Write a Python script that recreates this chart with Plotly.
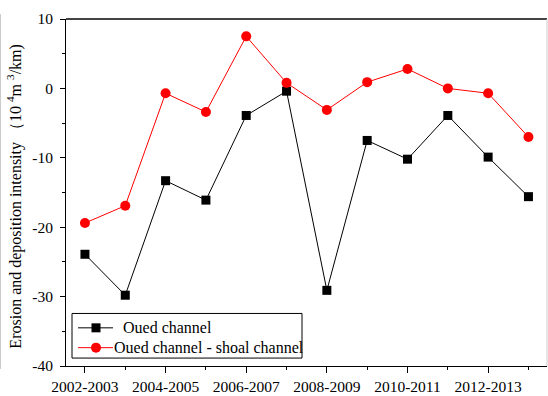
import plotly.graph_objects as go

# Hydrological years
years = ["2002-2003", "2003-2004", "2004-2005", "2005-2006", "2006-2007", "2007-2008",
         "2008-2009", "2009-2010", "2010-2011", "2011-2012", "2012-2013", "2013-2014"]

# Erosion / deposition intensity, 10^4 m^3/km
oued_channel = [-23.9, -29.8, -13.3, -16.1, -3.9, -0.4, -29.1, -7.5, -10.2, -3.9, -9.9, -15.6]
oued_minus_shoal = [-19.4, -16.9, -0.7, -3.4, 7.5, 0.8, -3.1, 0.9, 2.8, 0.0, -0.7, -7.0]

series_names = ["Oued channel", "Oued channel - shoal channel"]
series_colors = ["black", "#ff0000"]
series_symbols = ["square", "circle"]

y_tick_values = [-40, -30, -20, -10, 0, 10]
y_tick_labels = ["-40", "-30", "-20", "-10", "0", "10"]

x_pos = list(range(len(years)))
FONT = "Liberation Serif"

# plot-area geometry in pixels, used to place the hand-built legend box
W, H = 548, 396
ML, MR, MT, MB = 66, 1, 19, 27
PW, PH = W - ML - MR, H - MT - MB


def px_x(px):
    return (px - ML) / PW


def px_y(py):
    return (H - MB - py) / PH


fig = go.Figure()
for vals, name, col, sym, msize in zip([oued_channel, oued_minus_shoal], series_names,
                                       series_colors, series_symbols, [9, 10]):
    fig.add_trace(go.Scatter(
        x=x_pos, y=vals, mode="lines+markers", name=name, showlegend=False,
        line=dict(color=col, width=1),
        marker=dict(symbol=sym, size=msize, color=col),
    ))

shapes = [
    # frame: dark top edge, light right edge, faint rule at the far left
    dict(type="line", xref="paper", yref="paper", x0=0, x1=1, y0=1, y1=1,
         line=dict(color="#444444", width=2)),
    dict(type="line", xref="paper", yref="paper", x0=1, x1=1, y0=0, y1=1,
         line=dict(color="#cccccc", width=1)),
    dict(type="line", xref="paper", yref="paper", x0=px_x(0.5), x1=px_x(0.5),
         y0=px_y(372), y1=px_y(14), line=dict(color="#cccccc", width=1)),
    # legend box
    dict(type="rect", xref="paper", yref="paper", x0=px_x(72), x1=px_x(302),
         y0=px_y(361), y1=px_y(316), line=dict(color="black", width=1),
         fillcolor="white", layer="above"),
]
annotations = []
row_y = [330.5, 350.5]
text_x = [121.5, 112.5]
for i, (name, col, sym) in enumerate(zip(series_names, series_colors, series_symbols)):
    yy = px_y(row_y[i])
    shapes.append(dict(type="line", xref="paper", yref="paper",
                       x0=px_x(78), x1=px_x(113), y0=yy, y1=yy,
                       line=dict(color=col, width=1), layer="above"))
    half = 4.5 if sym == "square" else 5
    shapes.append(dict(type="rect" if sym == "square" else "circle",
                       xref="paper", yref="paper", xsizemode="pixel", ysizemode="pixel",
                       xanchor=px_x(96), yanchor=yy,
                       x0=-half, x1=half, y0=-half, y1=half,
                       fillcolor=col, line=dict(color=col, width=0), layer="above"))
    annotations.append(dict(text=name, xref="paper", yref="paper",
                            x=px_x(text_x[i]), y=yy, xanchor="left", yanchor="middle",
                            showarrow=False, borderpad=0,
                            font=dict(family=FONT, size=16, color="black")))

annotations.append(dict(
    text="Erosion and deposition intensity \uff0810 <sup>4</sup>m <sup>3</sup>/km)",
    xref="paper", yref="paper", x=px_x(15), y=px_y(353),
    xanchor="center", yanchor="bottom", textangle=-90, showarrow=False, borderpad=0,
    font=dict(family=FONT, size=16, color="black")))

fig.update_layout(
    width=W, height=H,
    margin=dict(l=ML, r=MR, t=MT, b=MB),
    paper_bgcolor="white", plot_bgcolor="white",
    font=dict(family=FONT, size=15.5, color="black"),
    xaxis=dict(
        range=[-0.47, 11.46], showgrid=False, zeroline=False,
        showline=True, linecolor="black", linewidth=1,
        ticks="outside", ticklen=6, tickcolor="black", tickwidth=1,
        tickmode="array", tickvals=x_pos[::2], ticktext=years[::2],
        minor=dict(tickmode="array", tickvals=x_pos[1::2], ticks="outside",
                   ticklen=3, tickcolor="black", tickwidth=1),
    ),
    yaxis=dict(
        range=[-40, 10], showgrid=False, zeroline=False,
        showline=True, linecolor="black", linewidth=1,
        ticks="outside", ticklen=5, tickcolor="black", tickwidth=1,
        tickmode="array", tickvals=y_tick_values, ticktext=y_tick_labels,
        ticklabelstandoff=4,
        minor=dict(dtick=5, tick0=0, ticks="outside", ticklen=3,
                   tickcolor="black", tickwidth=1),
    ),
    shapes=shapes,
    annotations=annotations,
)

fig.write_html("out.html")
